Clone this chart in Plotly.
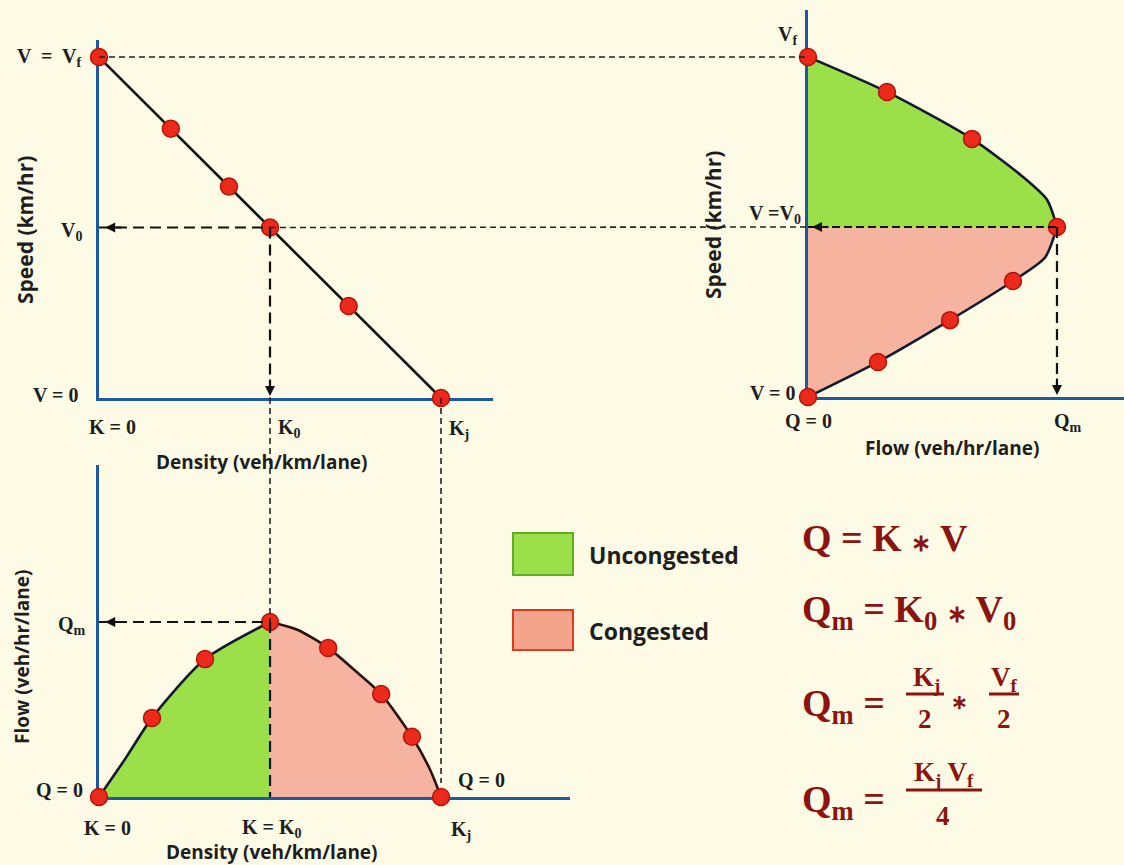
import plotly.graph_objects as go

# ---- data (K veh/km, V km/hr, Q veh/hr) ----
K_FREE, K_OPT, K_JAM = 0, 50, 100
V_FREE, V_OPT = 100, 50
Q_MAX = 2500

# speed-density (straight line with dots)
sd_k = [0, 21, 38, 50, 73, 100]
sd_v = [100, 79, 62, 50, 27, 0]

# speed-flow, uncongested (upper) branch
sf_up_q = [0, 793, 1647, 2159, 2400, 2500]
sf_up_v = [100, 89.7, 75.9, 64.7, 58, 50]
# speed-flow, congested (lower) branch
sf_lo_q = [2500, 2380, 2058, 1426, 703, 0]
sf_lo_v = [50, 41, 34.1, 22.6, 10.3, 0]
sf_dot_q = [0, 793, 1647, 2500, 2058, 1426, 703, 0]
sf_dot_v = [100, 89.7, 75.9, 50, 34.1, 22.6, 10.3, 0]

# flow-density
fd_unc_k = [0, 8, 15.5, 31, 50]
fd_unc_q = [0, 570, 1130, 1970, 2500]
fd_con_k = [50, 58, 67, 75, 82.5, 91.5, 96.8, 100]
fd_con_q = [2500, 2390, 2130, 1800, 1470, 860, 390, 0]
fd_dot_k = [0, 15.5, 31, 50, 67, 82.5, 91.5, 100]
fd_dot_q = [0, 1130, 1970, 2500, 2130, 1470, 860, 0]

legend_labels = ["Uncongested", "Congested"]

# ---- look ----
W, H = 1124, 865
BG = "#fdfbe5"
BLUE = "#1d58a6"
GREEN = "#9be049"
SALMON = "#f6b39f"
DOT = "#ec2a1c"
EQ = "#8a1410"
INK = "#1e1e1e"
SERIF = "Liberation Serif"
SANS = "Open Sans"
SMOOTH = 0.7

# panel boxes in pixels (left, right, top, bottom) and axis ranges
BOX = {"1": (99, 493, 40, 398), "2": (808, 1124, 10, 397), "3": (99, 570, 465, 797)}
RNG = {"1": ((0, 115.2), (0, 105)), "2": ((0, 3173), (0, 113.8)), "3": ((0, 137.7), (0, 4743))}


def fx(p):
    return p / W


def fy(p):
    return 1 - p / H


def px_x(panel, v):
    l, r, _, _ = BOX[panel]
    lo, hi = RNG[panel][0]
    return l + (v - lo) / (hi - lo) * (r - l)


def px_y(panel, v):
    _, _, t, b = BOX[panel]
    lo, hi = RNG[panel][1]
    return b - (v - lo) / (hi - lo) * (b - t)


fig = go.Figure()

axes = {"1": ("x", "y"), "2": ("x2", "y2"), "3": ("x3", "y3")}

# fills
fig.add_trace(go.Scatter(x=sf_up_q, y=sf_up_v, xaxis="x2", yaxis="y2", mode="lines",
                         line=dict(width=0, shape="spline", smoothing=SMOOTH), fill="tozerox", fillcolor=GREEN))
fig.add_trace(go.Scatter(x=sf_lo_q, y=sf_lo_v, xaxis="x2", yaxis="y2", mode="lines",
                         line=dict(width=0, shape="spline", smoothing=SMOOTH), fill="tozerox", fillcolor=SALMON))
fig.add_trace(go.Scatter(x=fd_unc_k, y=fd_unc_q, xaxis="x3", yaxis="y3", mode="lines",
                         line=dict(width=0, shape="spline", smoothing=SMOOTH), fill="tozeroy", fillcolor=GREEN))
fig.add_trace(go.Scatter(x=fd_con_k, y=fd_con_q, xaxis="x3", yaxis="y3", mode="lines",
                         line=dict(width=0, shape="spline", smoothing=SMOOTH), fill="tozeroy", fillcolor=SALMON))

# curves
fig.add_trace(go.Scatter(x=sd_k, y=sd_v, mode="lines", line=dict(color="#111", width=2.6)))
for xs, ys, xa, ya, c in [(sf_up_q, sf_up_v, "x2", "y2", "#141a2e"), (sf_lo_q, sf_lo_v, "x2", "y2", "#141a2e"),
                          (fd_unc_k, fd_unc_q, "x3", "y3", "#141a2e"), (fd_con_k, fd_con_q, "x3", "y3", "#2a1010")]:
    fig.add_trace(go.Scatter(x=xs, y=ys, xaxis=xa, yaxis=ya, mode="lines",
                             line=dict(color=c, width=2.6, shape="spline", smoothing=SMOOTH)))

# dashed guides
THICK = dict(color="#111", width=2.2, dash="11px,6px")
THIN = dict(color="#222", width=1.6, dash="6px,4px")
shapes = []
# panel 1
shapes.append(dict(type="line", xref="x", yref="y", x0=0, x1=K_OPT, y0=V_OPT, y1=V_OPT, line=THICK))
shapes.append(dict(type="line", xref="x", yref="y", x0=K_OPT, x1=K_OPT, y0=V_OPT, y1=0, line=THICK))
# Vf across to panel 2
shapes.append(dict(type="line", xref="paper", yref="paper",
                   x0=fx(px_x("1", 0)), x1=fx(px_x("2", 0)),
                   y0=fy(px_y("1", V_FREE)), y1=fy(px_y("2", V_FREE)), line=THIN))
# V0 across to panel 2
shapes.append(dict(type="line", xref="paper", yref="paper",
                   x0=fx(px_x("1", K_OPT)), x1=fx(px_x("2", 0)),
                   y0=fy(px_y("1", V_OPT)), y1=fy(px_y("2", V_OPT)), line=THIN))
# K0 and Kj down to panel 3
shapes.append(dict(type="line", xref="paper", yref="paper",
                   x0=fx(px_x("1", K_OPT)), x1=fx(px_x("3", K_OPT)),
                   y0=fy(px_y("1", 0)), y1=fy(px_y("3", Q_MAX)), line=THIN))
shapes.append(dict(type="line", xref="paper", yref="paper",
                   x0=fx(px_x("1", K_JAM)), x1=fx(px_x("3", K_JAM)),
                   y0=fy(px_y("1", 0)), y1=fy(px_y("3", 0) - 14), line=THIN))
# panel 2
shapes.append(dict(type="line", xref="x2", yref="y2", x0=0, x1=Q_MAX, y0=V_OPT, y1=V_OPT,
                   line=dict(color="#111", width=2, dash="8px,4px")))
shapes.append(dict(type="line", xref="x2", yref="y2", x0=Q_MAX, x1=Q_MAX, y0=V_OPT, y1=0, line=THICK))
# panel 3
shapes.append(dict(type="line", xref="x3", yref="y3", x0=0, x1=K_OPT, y0=Q_MAX, y1=Q_MAX, line=THICK))
shapes.append(dict(type="line", xref="x3", yref="y3", x0=K_OPT, x1=K_OPT, y0=Q_MAX, y1=0, line=THICK))

# legend swatches
shapes.append(dict(type="rect", xref="paper", yref="paper", x0=fx(513), x1=fx(573), y0=fy(575), y1=fy(533),
                   fillcolor=GREEN, line=dict(color="#5fae22", width=2)))
shapes.append(dict(type="rect", xref="paper", yref="paper", x0=fx(513), x1=fx(573), y0=fy(650), y1=fy(610),
                   fillcolor="#f5a48c", line=dict(color="#df3a22", width=2)))

# fraction bars
for a, b, y in [(906, 944, 694), (989, 1019, 694), (906, 982, 790)]:
    shapes.append(dict(type="line", xref="paper", yref="paper", x0=fx(a), x1=fx(b), y0=fy(y), y1=fy(y),
                       line=dict(color=EQ, width=3)))

# dots
DOTSTYLE = dict(size=17, color=DOT, line=dict(color="#b0150c", width=1.5))
fig.add_trace(go.Scatter(x=sd_k, y=sd_v, mode="markers", cliponaxis=False, marker=DOTSTYLE))
fig.add_trace(go.Scatter(x=sf_dot_q, y=sf_dot_v, xaxis="x2", yaxis="y2", mode="markers",
                         cliponaxis=False, marker=DOTSTYLE))
fig.add_trace(go.Scatter(x=fd_dot_k, y=fd_dot_q, xaxis="x3", yaxis="y3", mode="markers",
                         cliponaxis=False, marker=DOTSTYLE))

ann = []


def txt(text, x, y, size=20, xanchor="center", family=SERIF, color=INK, angle=0):
    ann.append(dict(text=text, x=fx(x), y=fy(y), xref="paper", yref="paper", xanchor=xanchor, yanchor="middle",
                    showarrow=False, textangle=angle, font=dict(family=family, size=size, color=color)))


def arrow(x, y, ax, ay, xref, yref):
    ann.append(dict(text="", x=x, y=y, xref=xref, yref=yref, ax=ax, ay=ay, showarrow=True,
                    arrowhead=2, arrowsize=1, arrowwidth=2, arrowcolor="#111"))


arrow(1.8, V_OPT, 18, 0, "x", "y")
arrow(K_OPT, 0.6, 0, -18, "x", "y")
arrow(40, V_OPT, 18, 0, "x2", "y2")
arrow(Q_MAX, 0.6, 0, -18, "x2", "y2")
arrow(1.8, Q_MAX, 18, 0, "x3", "y3")

# panel 1 labels
txt("<b>V  =  V<sub>f</sub></b>", 84, 57, xanchor="right")
txt("<b>V<sub>0</sub></b>", 84, 231, xanchor="right")
txt("<b>V = 0</b>", 80, 395, xanchor="right")
txt("<b>K = 0</b>", 112, 427)
txt("<b>K<sub>0</sub></b>", 276, 428, xanchor="left")
txt("<b>K<sub>j</sub></b>", 447, 429, xanchor="left")
txt("<b>Density (veh/km/lane)</b>", 262, 462, size=19, family=SANS)
txt("<b>Speed (km/hr)</b>", 25, 230, size=21, family=SANS, angle=-90)

# panel 2 labels
txt("<b>V<sub>f</sub></b>", 787, 36)
txt("<b>V =V<sub>0</sub></b>", 803, 214, xanchor="right")
txt("<b>V = 0</b>", 797, 393, xanchor="right")
txt("<b>Q = 0</b>", 808, 421)
txt("<b>Q<sub>m</sub></b>", 1068, 423)
txt("<b>Flow (veh/hr/lane)</b>", 952, 448, size=19, family=SANS)
txt("<b>Speed (km/hr)</b>", 713, 225, size=21, family=SANS, angle=-90)

# panel 3 labels
txt("<b>Q<sub>m</sub></b>", 88, 625, xanchor="right")
txt("<b>Q = 0</b>", 85, 790, xanchor="right")
txt("<b>K = 0</b>", 107, 828)
txt("<b>K = K<sub>0</sub></b>", 272, 828)
txt("<b>K<sub>j</sub></b>", 461, 830)
txt("<b>Q = 0</b>", 456, 780, xanchor="left")
txt("<b>Density (veh/km/lane)</b>", 272, 852, size=19, family=SANS)
txt("<b>Flow (veh/hr/lane)</b>", 22, 657, size=19, family=SANS, angle=-90)

# legend
txt("<b>" + legend_labels[0] + "</b>", 587, 555, size=23, xanchor="left", family=SANS)
txt("<b>" + legend_labels[1] + "</b>", 587, 631, size=23, xanchor="left", family=SANS)

# equations
STAR = "<span style='font-size:24px'>∗</span>"
txt("<b>Q = K " + STAR + " V</b>", 800, 538, size=38, xanchor="left", color=EQ)
txt("<b>Q<sub>m</sub> = K<sub>0</sub> " + STAR + " V<sub>0</sub></b>", 800, 612, size=38, xanchor="left", color=EQ)
txt("<b>Q<sub>m</sub> =</b>", 800, 706, size=38, xanchor="left", color=EQ)
txt("<b>K<sub>j</sub></b>", 926, 679, size=27, color=EQ)
txt("<b>2</b>", 925, 719, size=27, color=EQ)
txt("<b>∗</b>", 959, 702, size=20, color=EQ)
txt("<b>V<sub>f</sub></b>", 1004, 679, size=27, color=EQ)
txt("<b>2</b>", 1004, 719, size=27, color=EQ)
txt("<b>Q<sub>m</sub> =</b>", 800, 802, size=38, xanchor="left", color=EQ)
txt("<b>K<sub>j</sub> V<sub>f</sub></b>", 944, 774, size=27, color=EQ)
txt("<b>4</b>", 943, 816, size=27, color=EQ)

layout = dict(width=W, height=H, margin=dict(l=0, r=0, t=0, b=0), showlegend=False,
              paper_bgcolor=BG, plot_bgcolor=BG, shapes=shapes, annotations=ann)
for p, (xa, ya) in axes.items():
    l, r, t, b = BOX[p]
    xr, yr = RNG[p]
    common = dict(showline=True, linecolor=BLUE, linewidth=3, showgrid=False, zeroline=False,
                  showticklabels=False, ticks="", layer="below traces", fixedrange=True)
    layout["xaxis" + xa[1:]] = dict(domain=[fx(l), fx(r)], range=list(xr), anchor=ya, **common)
    layout["yaxis" + ya[1:]] = dict(domain=[fy(b), fy(t)], range=list(yr), anchor=xa, **common)

fig.update_layout(**layout)
fig.write_html("out.html", config={"displayModeBar": False},
               post_script="document.body.style.margin='0';document.body.style.overflow='hidden';"
                           "document.body.style.background='" + BG + "';")
